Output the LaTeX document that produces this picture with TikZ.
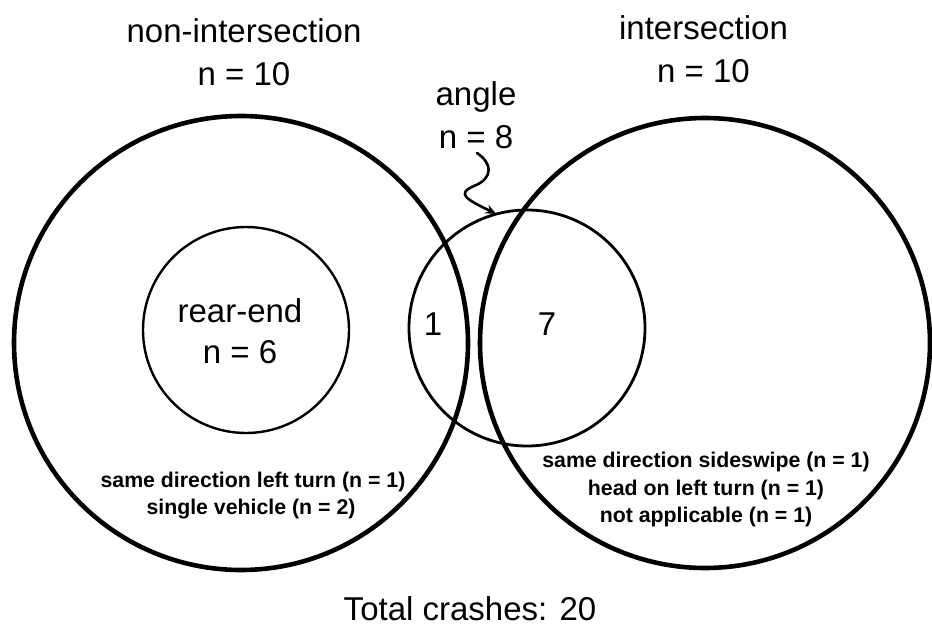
\documentclass[tikz,border=0pt]{standalone}
\usepackage{fontspec}
\setmainfont{Liberation Sans}
\usetikzlibrary{arrows.meta}
\begin{document}
\begin{tikzpicture}[x=1pt,y=-1pt,
  bigring/.style={circle,draw,line width=4.6pt,inner sep=0pt,outer sep=0pt},
  thinring/.style={circle,draw,line width=2.8pt,inner sep=0pt,outer sep=0pt},
  bigtxt/.style={anchor=base,inner sep=0pt,font=\fontsize{33}{40}\selectfont},
  smalltxt/.style={anchor=base,inner sep=0pt,font=\fontsize{21.3}{27}\selectfont\bfseries},
  squig/.style={line width=2.6pt,line cap=round,-{Stealth[length=11pt,width=9pt]}}]
\useasboundingbox (0,0) rectangle (932,626);
% circles
\node[bigring,minimum size=454pt] (L) at (241,343) {};
\node[bigring,minimum size=450pt] (R) at (705,343) {};
\node[thinring,minimum size=236pt] (A) at (527,328) {};
\node[thinring,line width=2.4pt,minimum size=206pt] (E) at (246,330) {};
% titles
\node[bigtxt] (t1) at (244,43) {non-intersection};
\node[bigtxt] (t1n) at (244,85) {n = 10};
\node[bigtxt] (t2) at (703.5,40) {intersection};
\node[bigtxt] (t2n) at (703.5,82) {n = 10};
\node[bigtxt] (ta) at (476,105) {angle};
\node[bigtxt] (tan) at (476,148) {n = 8};
\node[bigtxt] (te) at (240,322) {rear-end};
\node[bigtxt] (ten) at (240,363) {n = 6};
\node[bigtxt] (one) at (433,335) {1};
\node[bigtxt] (seven) at (547,335) {7};
\node[bigtxt] (tot) at (470,620) {Total crashes: 20};
% small labels
\node[smalltxt] (l1) at (253,487) {same direction left turn (n = 1)};
\node[smalltxt] (l2) at (251,514) {single vehicle (n = 2)};
\node[smalltxt] (r1) at (706,467) {same direction sideswipe (n = 1)};
\node[smalltxt] (r2) at (706,495) {head on left turn (n = 1)};
\node[smalltxt] (r3) at (706,522) {not applicable (n = 1)};
% squiggle arrow
\coordinate (s0) at (477,153);
\draw[squig] (s0) .. controls (492,163) and (494,178) .. (474,186)
  .. controls (455,194) and (468,200) .. (A.105);
\end{tikzpicture}
\end{document}
